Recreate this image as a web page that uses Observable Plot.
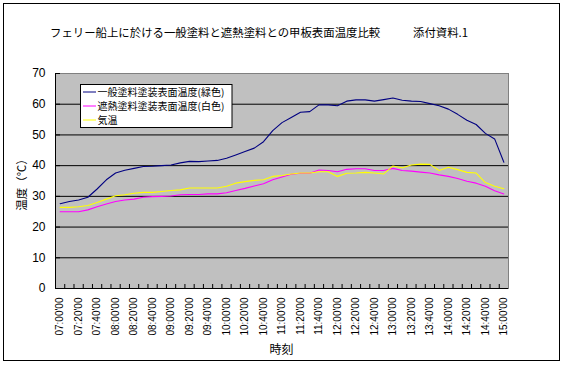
<!DOCTYPE html>
<html><head><meta charset="utf-8">
<script src="https://cdn.jsdelivr.net/npm/d3@7"></script>
<script src="https://cdn.jsdelivr.net/npm/@observablehq/plot@0.6"></script>
<style>
html,body{margin:0;padding:0;background:#fff;}
#chart{position:relative;width:564px;height:365px;}
</style></head><body><div id="chart"></div>
<script>
const times = ["07:00'00","07:10'00","07:20'00","07:30'00","07:40'00","07:50'00",
  "08:00'00","08:10'00","08:20'00","08:30'00","08:40'00","08:50'00",
  "09:00'00","09:10'00","09:20'00","09:30'00","09:40'00","09:50'00",
  "10:00'00","10:10'00","10:20'00","10:30'00","10:40'00","10:50'00",
  "11:00'00","11:10'00","11:20'00","11:30'00","11:40'00","11:50'00",
  "12:00'00","12:10'00","12:20'00","12:30'00","12:40'00","12:50'00",
  "13:00'00","13:10'00","13:20'00","13:30'00","13:40'00","13:50'00",
  "14:00'00","14:10'00","14:20'00","14:30'00","14:40'00","14:50'00","15:00'00"];
const seriesNames = ["一般塗料塗装表面温度(緑色)", "遮熱塗料塗装表面温度(白色)", "気温"];
const seriesColors = ["#000080", "#FF00FF", "#FFFF00"];
const general = [27.6, 28.3, 28.8, 29.7, 32.4, 35.4, 37.6, 38.5, 39.1, 39.7, 39.8, 40.0,
  40.2, 40.9, 41.4, 41.3, 41.5, 41.7, 42.4, 43.5, 44.6, 45.7, 47.8, 51.4,
  54.0, 55.7, 57.4, 57.6, 59.8, 59.8, 59.5, 61.0, 61.4, 61.4, 61.0, 61.5,
  62.0, 61.3, 61.0, 60.9, 60.2, 59.5, 58.4, 56.7, 54.8, 53.4, 50.5, 48.7, 41.1];
const thermal = [25.0, 25.0, 25.0, 25.6, 26.6, 27.5, 28.3, 28.8, 29.1, 29.7, 29.9, 30.0,
  30.1, 30.5, 30.6, 30.6, 30.8, 30.8, 31.2, 31.9, 32.6, 33.4, 34.1, 35.4,
  36.3, 37.2, 37.5, 37.5, 38.6, 38.4, 38.0, 38.8, 39.0, 39.0, 38.4, 38.4,
  39.1, 38.4, 38.2, 37.9, 37.6, 37.0, 36.5, 35.8, 34.9, 34.3, 33.3, 31.8, 30.8];
const air = [26.4, 26.4, 26.6, 27.0, 28.0, 29.1, 30.2, 30.5, 31.0, 31.3, 31.3, 31.6,
  31.9, 32.1, 32.7, 32.7, 32.7, 32.7, 33.3, 34.3, 34.8, 35.2, 35.4, 36.5,
  36.8, 37.3, 37.6, 37.6, 38.0, 38.0, 36.5, 37.5, 37.6, 37.8, 37.6, 37.3,
  39.9, 39.3, 40.2, 40.5, 40.4, 38.4, 39.5, 38.7, 37.8, 37.6, 34.5, 33.3, 32.5];
const yTicks = [0, 10, 20, 30, 40, 50, 60, 70];
const titleMain = "フェリー船上に於ける一般塗料と遮熱塗料との甲板表面温度比較";
const titleNote = "添付資料.1";
const yLabel = "温度（℃）";
const xLabel = "時刻";

const rows = [];
[general, thermal, air].forEach((vals, s) => vals.forEach((v, i) => rows.push({i, v, s: seriesNames[s]})));
const idx = times.map((_, i) => i);
const boundaries = idx.slice(1).map(i => i - 0.5);
const labelIdx = idx.filter(i => i % 2 === 0);
const xMin = -0.5, xMax = times.length - 0.5;

const W = 564, H = 365, L = 55, R = 508, T = 73, B = 288;
const numFont = "'Liberation Sans', Arial, sans-serif";
const cjkFont = "'Noto Sans CJK JP', sans-serif";

const plot = Plot.plot({
  width: W, height: H,
  marginLeft: L, marginRight: W - R, marginTop: T, marginBottom: H - B,
  style: {background: "transparent", fontFamily: numFont, color: "#000"},
  x: {type: "linear", domain: [xMin, xMax], axis: null, label: null},
  y: {domain: [0, 70], axis: null, label: null},
  color: {domain: seriesNames, range: seriesColors},
  marks: [
    Plot.frame({fill: "#C0C0C0", stroke: "#808080"}),
    Plot.ruleY(yTicks.slice(1, -1), {stroke: "#000", strokeWidth: 1}),
    Plot.axisY({ticks: yTicks, tickSize: 5, dx: 5, tickFormat: () => "", stroke: "#000", label: null}),
    Plot.axisY({ticks: yTicks, tickSize: 0, tickPadding: 10, fontSize: 12, fill: "#000", label: null}),
    Plot.ruleY([0], {stroke: "#000"}),
    Plot.ruleX([xMin], {stroke: "#000"}),
    Plot.axisX({ticks: boundaries, tickSize: 4, dy: -4, tickFormat: () => "", stroke: "#000", label: null}),
    Plot.text(labelIdx, {x: d => d, text: d => times[d], frameAnchor: "bottom", rotate: -90,
      textAnchor: "end", lineAnchor: "middle", dy: 9, fontSize: 10, fill: "#000"}),
    Plot.line(rows, {x: "i", y: "v", stroke: "s", z: "s", strokeWidth: 1.1})
  ]
});

document.getElementById("chart").appendChild(plot);
const svg = d3.select(plot);
svg.insert("rect", ":first-child").attr("x", 3.5).attr("y", 3.5).attr("width", 556).attr("height", 357)
  .attr("fill", "#fff").attr("stroke", "#000");
svg.append("text").attr("x", 50).attr("y", 33).attr("dy", "0.35em").attr("text-anchor", "start")
  .attr("font-family", cjkFont).attr("font-size", 11.4).attr("fill", "#000").text(titleMain);
svg.append("text").attr("x", 413).attr("y", 33).attr("dy", "0.35em").attr("text-anchor", "start")
  .attr("font-family", cjkFont).attr("font-size", 11.4).attr("fill", "#000").text(titleNote);
svg.append("text").attr("transform", "translate(22,182) rotate(-90)").attr("text-anchor", "middle")
  .attr("dy", "0.35em").attr("font-family", cjkFont).attr("font-size", 11.5).attr("fill", "#000").text(yLabel);
svg.append("text").attr("x", (L + R) / 2).attr("y", 350).attr("text-anchor", "middle")
  .attr("dy", "0.35em").attr("font-family", cjkFont).attr("font-size", 12).attr("fill", "#000").text(xLabel);

const lg = svg.append("g");
lg.append("rect").attr("x", 80.5).attr("y", 84.5).attr("width", 151.5).attr("height", 43)
  .attr("fill", "#fff").attr("stroke", "#000");
const rowY = [92, 106, 120];
seriesNames.forEach((n, k) => {
  lg.append("line").attr("x1", 83).attr("x2", 96).attr("y1", rowY[k]).attr("y2", rowY[k])
    .attr("stroke", seriesColors[k]).attr("stroke-width", 1);
  lg.append("text").attr("x", 97.5).attr("y", rowY[k]).attr("dy", "0.35em").attr("text-anchor", "start")
    .attr("font-family", cjkFont).attr("font-size", 10).attr("fill", "#000").text(n);
});
</script></body></html>
